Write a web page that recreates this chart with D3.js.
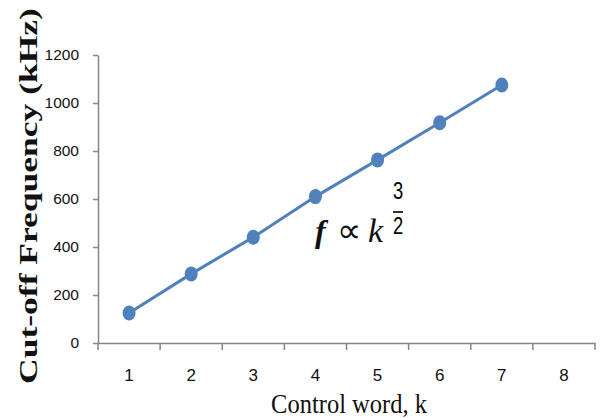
<!DOCTYPE html>
<html>
<head>
<meta charset="utf-8">
<script src="https://cdn.jsdelivr.net/npm/d3@7"></script>
<style>
  body { margin: 0; background: #fff; }
  svg { display: block; }
</style>
</head>
<body>
<div id="container"></div>
<script>
const width = 600,
  height = 419,
  margin = { top: 55, right: 5, bottom: 76, left: 98 };

// control word k (categories on x) and measured cut-off frequency (kHz)
const categories = ["1", "2", "3", "4", "5", "6", "7", "8"];
const controlWord = ["1", "2", "3", "4", "5", "6", "7"];
const cutoffKHz = [125, 288, 441, 610, 763, 918, 1075];
const yTicks = [0, 200, 400, 600, 800, 1000, 1200];

const data = controlWord.map((k, i) => ({ k: k, f: cutoffKHz[i] }));

const svg = d3.select("#container")
  .append("svg")
  .attr("width", width)
  .attr("height", height);

// + SCALES
const xScale = d3.scaleBand()
  .domain(categories)
  .range([margin.left, width - margin.right])
  .padding(0);

const yScale = d3.scaleLinear()
  .domain([0, 1200])
  .range([height - margin.bottom, margin.top]);

const axisColor = "#868686";
const labelFont = "'Liberation Sans', Arial, sans-serif";
const serif = "'Liberation Serif', 'Times New Roman', serif";

// + Y AXIS
const yAxis = d3.axisLeft(yScale)
  .tickValues(yTicks)
  .tickFormat(d3.format("d"))
  .tickSize(5)
  .tickSizeOuter(0)
  .tickPadding(14);

const yAxisGroup = svg.append("g")
  .attr("transform", `translate(${margin.left}, 0)`)
  .call(yAxis);

yAxisGroup.select(".domain").attr("stroke", axisColor).attr("stroke-width", 1.5);
yAxisGroup.selectAll(".tick line").attr("stroke", axisColor).attr("stroke-width", 1.5);
yAxisGroup.selectAll(".tick text")
  .attr("fill", "#111")
  .style("font-family", labelFont)
  .style("font-size", "15.5px");

// + X AXIS (labels centred in bands, ticks on band edges)
const xAxis = d3.axisBottom(xScale)
  .tickSize(0)
  .tickSizeOuter(0)
  .tickPadding(25.5);

const xAxisGroup = svg.append("g")
  .attr("transform", `translate(0, ${yScale(0)})`)
  .call(xAxis);

xAxisGroup.select(".domain").attr("stroke", axisColor).attr("stroke-width", 1.5);
xAxisGroup.selectAll(".tick text")
  .attr("fill", "#111")
  .style("font-family", labelFont)
  .style("font-size", "17px");

const edges = categories.map(c => xScale(c)).concat([xScale.range()[1]]);
xAxisGroup.selectAll(".edge")
  .data(edges)
  .join("line")
  .attr("class", "edge")
  .attr("x1", d => d)
  .attr("x2", d => d)
  .attr("y1", 0)
  .attr("y2", 7)
  .attr("stroke", axisColor)
  .attr("stroke-width", 1.5);

// + AXIS TITLES
// the title in the picture is stretched along its length
svg.append("text")
  .attr("transform", `translate(37, 196) rotate(-90) scale(1.42, 1)`)
  .attr("text-anchor", "middle")
  .style("font-family", serif)
  .style("font-weight", "bold")
  .style("font-size", "25px")
  .attr("fill", "#111")
  .text("Cut-off Frequency (kHz)");

svg.append("text")
  .attr("transform", `translate(349, 413) scale(1, 1.12)`)
  .attr("text-anchor", "middle")
  .style("font-family", serif)
  .style("font-size", "24.5px")
  .attr("fill", "#111")
  .text("Control word, k");

// + LINE + MARKERS
const blue = "#4F81BD";
const lineGen = d3.line()
  .x(d => xScale(d.k) + xScale.bandwidth() / 2)
  .y(d => yScale(d.f));

svg.append("path")
  .datum(data)
  .attr("fill", "none")
  .attr("stroke", blue)
  .attr("stroke-width", 3)
  .attr("d", lineGen);

svg.selectAll(".pt")
  .data(data)
  .join("ellipse")
  .attr("class", "pt")
  .attr("cx", d => xScale(d.k) + xScale.bandwidth() / 2)
  .attr("cy", d => yScale(d.f))
  .attr("rx", 6.5)
  .attr("ry", 7.5)
  .attr("fill", blue);

// + ANNOTATION  f ∝ k^(3/2)
const note = svg.append("g")
  .style("font-family", serif)
  .attr("fill", "#111");

note.append("text")
  .attr("x", 315)
  .attr("y", 242)
  .style("font-size", "32px")
  .style("font-style", "italic")
  .style("font-weight", "bold")
  .text("f");

note.append("text")
  .attr("x", 337)
  .attr("y", 242)
  .style("font-size", "34px")
  .text("\u221D");

note.append("text")
  .attr("x", 368)
  .attr("y", 242)
  .style("font-size", "34px")
  .style("font-style", "italic")
  .text("k");

note.append("text")
  .attr("transform", "translate(398, 199) scale(0.8, 1)")
  .attr("text-anchor", "middle")
  .style("font-family", labelFont)
  .style("font-size", "23px")
  .attr("fill", "#000")
  .text("3");

note.append("line")
  .attr("x1", 393)
  .attr("x2", 403)
  .attr("y1", 212)
  .attr("y2", 212)
  .attr("stroke", "#000")
  .attr("stroke-width", 1.6);

note.append("text")
  .attr("transform", "translate(398, 234) scale(0.8, 1)")
  .attr("text-anchor", "middle")
  .style("font-family", labelFont)
  .style("font-size", "23px")
  .attr("fill", "#000")
  .text("2");
</script>
</body>
</html>
